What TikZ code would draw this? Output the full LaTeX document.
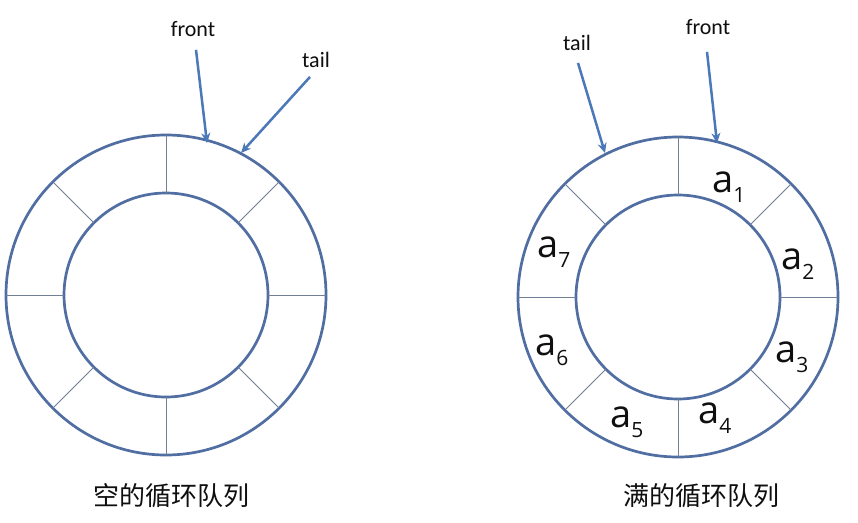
\documentclass[tikz,border=0pt]{standalone}
\usepackage{fontspec}
\usetikzlibrary{arrows.meta,calc}
\setmainfont{Open Sans}
\newfontfamily\lblfont{Carlito}
\newfontfamily\cjk{Noto Sans CJK SC}
\definecolor{ringc}{RGB}{80,110,162}
\definecolor{arrc}{RGB}{74,120,185}
\definecolor{divc}{RGB}{112,126,150}
\definecolor{txtc}{RGB}{15,15,15}
\newcommand{\elem}[1]{{\fontsize{38}{38}\selectfont a}\raisebox{-10pt}{\fontsize{21}{21}\selectfont #1}}
\tikzset{
  ring/.style={draw=ringc, line width=2.7pt},
  divider/.style={draw=divc, line width=0.9pt},
  ptr/.style={draw=arrc, line width=2.5pt, -{Stealth[length=10pt,width=9pt]}},
  ptrlabel/.style={font=\lblfont\fontsize{22}{22}\selectfont, text=txtc, inner sep=0pt},
  elemlabel/.style={text=txtc, inner sep=0pt, anchor=base west},
  caption/.style={font=\cjk\fontsize{26}{26}\selectfont, text=txtc, inner sep=0pt, anchor=base}
}
\begin{document}
\begin{tikzpicture}[x=1pt,y=-1pt]
\useasboundingbox[fill=white] (0,0) rectangle (858,522);
% ---- left ring (empty queue) ----
\coordinate (L) at (166,295);
\draw[ring] (L) circle[radius=160];
\draw[ring] (L) circle[radius=102];
\foreach \a in {0,45,...,315}
  \draw[divider] ($(L)+(\a:102)$) -- ($(L)+(\a:160)$);
% ---- right ring (full queue) ----
\coordinate (R) at (678,297);
\draw[ring] (R) circle[radius=160];
\draw[ring] (R) circle[radius=102];
\foreach \a in {0,45,...,315}
  \draw[divider] ($(R)+(\a:102)$) -- ($(R)+(\a:160)$);
% ---- pointer labels ----
\node[ptrlabel] (frontL) at (193,29) {front};
\node[ptrlabel] (tailL) at (316,60) {tail};
\node[ptrlabel] (tailR) at (577,43) {tail};
\node[ptrlabel] (frontR) at (708,27) {front};
% ---- pointer targets on the rings ----
\coordinate (frontLtip) at ($(L)+(41,-152)$);
\coordinate (tailLtip) at ($(L)+(75,-142)$);
\coordinate (tailRtip) at ($(R)+(-73,-144)$);
\coordinate (frontRtip) at ($(R)+(39,-154)$);
\draw[ptr] ([xshift=3pt,yshift=-13pt]frontL.south) -- (frontLtip);
\draw[ptr] ([xshift=-6pt,yshift=-9pt]tailL.south) -- (tailLtip);
\draw[ptr] ([xshift=1pt,yshift=-12pt]tailR.south) -- (tailRtip);
\draw[ptr] ([xshift=-1pt,yshift=-17pt]frontR.south) -- (frontRtip);
% ---- elements ----
\node[elemlabel] (e1) at (712,192) {\elem{1}};
\node[elemlabel] (e2) at (781,269) {\elem{2}};
\node[elemlabel] (e3) at (775,362) {\elem{3}};
\node[elemlabel] (e4) at (698,423) {\elem{4}};
\node[elemlabel] (e5) at (610,427) {\elem{5}};
\node[elemlabel] (e6) at (535,355) {\elem{6}};
\node[elemlabel] (e7) at (537,257) {\elem{7}};
% ---- captions ----
\node[caption] (capL) at (171,505) {空的循环队列};
\node[caption] (capR) at (701,505) {满的循环队列};
\end{tikzpicture}
\end{document}
